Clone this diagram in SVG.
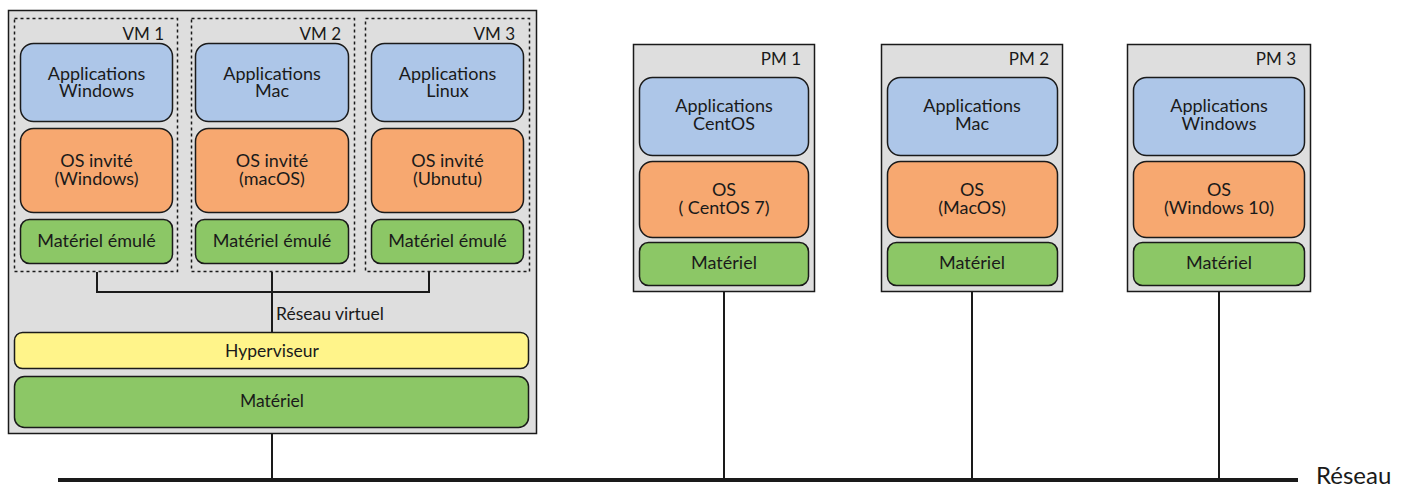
<svg xmlns="http://www.w3.org/2000/svg" width="1408" height="487" viewBox="0 0 1408 487">
<style>
text{font-family:Lato,"Noto Sans","Liberation Sans",sans-serif;font-size:18px;fill:#1a1a1a;text-anchor:middle}
.lbl{text-anchor:end;font-size:17px}
.mid{font-size:17.5px}
.host{fill:#dedede;stroke:#1a1a1a;stroke-width:1.5}
.vm{fill:none;stroke:#1a1a1a;stroke-width:1.5;stroke-dasharray:3 3}
.app{fill:#adc6e8;stroke:#1a1a1a;stroke-width:1.5}
.os{fill:#f7a870;stroke:#1a1a1a;stroke-width:1.5}
.hw{fill:#8cc766;stroke:#1a1a1a;stroke-width:1.5}
.hyp{fill:#fff48a;stroke:#1a1a1a;stroke-width:1.5}
.ln{fill:none;stroke:#1a1a1a;stroke-width:2}
</style>
<g id="host">
<rect class="host" x="8.5" y="10.5" width="528" height="423"/>
<rect class="hyp" x="14.5" y="332.5" width="514" height="36" rx="8"/>
<text class="mid" x="272" y="357">Hyperviseur</text>
<rect class="hw" x="14.5" y="376.5" width="514" height="51" rx="10"/>
<text class="mid" x="272" y="407">Matériel</text>
<text class="mid" x="276" y="320" style="text-anchor:start">Réseau virtuel</text>
</g>
<g id="vm1">
<rect class="vm" x="14.5" y="18.5" width="163" height="253"/>
<text class="lbl" x="164" y="40">VM 1</text>
<rect class="app" x="20.5" y="43.5" width="152" height="78" rx="13"/>
<text x="96.5" y="80">Applications</text><text x="96.5" y="97">Windows</text>
<rect class="os" x="20.5" y="128.5" width="152" height="84" rx="13"/>
<text x="96.5" y="167">OS invité</text><text x="96.5" y="185">(Windows)</text>
<rect class="hw" x="20.5" y="219.5" width="152" height="44" rx="9"/>
<text x="96.5" y="247">Matériel émulé</text>
</g>
<g id="vm2">
<rect class="vm" x="191.5" y="18.5" width="163" height="253"/>
<text class="lbl" x="341" y="40">VM 2</text>
<rect class="app" x="195.5" y="43.5" width="153" height="78" rx="13"/>
<text x="272" y="80">Applications</text><text x="272" y="97">Mac</text>
<rect class="os" x="195.5" y="128.5" width="153" height="84" rx="13"/>
<text x="272" y="167">OS invité</text><text x="272" y="185">(macOS)</text>
<rect class="hw" x="195.5" y="219.5" width="153" height="44" rx="9"/>
<text x="272" y="247">Matériel émulé</text>
</g>
<g id="vm3">
<rect class="vm" x="365.5" y="18.5" width="164" height="253"/>
<text class="lbl" x="515" y="40">VM 3</text>
<rect class="app" x="371.5" y="43.5" width="152" height="78" rx="13"/>
<text x="447.5" y="80">Applications</text><text x="447.5" y="97">Linux</text>
<rect class="os" x="371.5" y="128.5" width="152" height="84" rx="13"/>
<text x="447.5" y="167">OS invité</text><text x="447.5" y="185">(Ubnutu)</text>
<rect class="hw" x="371.5" y="219.5" width="152" height="44" rx="9"/>
<text x="447.5" y="247">Matériel émulé</text>
</g>
<g id="pm1">
<rect class="host" x="633.5" y="44.5" width="181" height="247"/>
<text class="lbl" x="801" y="65">PM 1</text>
<rect class="app" x="639.5" y="77.5" width="169" height="78" rx="13"/>
<text x="724" y="112">Applications</text><text x="724" y="130">CentOS</text>
<rect class="os" x="639.5" y="161.5" width="169" height="76" rx="13"/>
<text x="724" y="196">OS</text><text x="724" y="214">( CentOS 7)</text>
<rect class="hw" x="639.5" y="242.5" width="169" height="43" rx="9"/>
<text x="724" y="269">Matériel</text>
</g>
<g id="pm2">
<rect class="host" x="881.5" y="44.5" width="181" height="247"/>
<text class="lbl" x="1049" y="65">PM 2</text>
<rect class="app" x="887.5" y="77.5" width="170" height="78" rx="13"/>
<text x="972" y="112">Applications</text><text x="972" y="130">Mac</text>
<rect class="os" x="887.5" y="161.5" width="170" height="76" rx="13"/>
<text x="972" y="196">OS</text><text x="972" y="214">(MacOS)</text>
<rect class="hw" x="887.5" y="242.5" width="170" height="43" rx="9"/>
<text x="972" y="269">Matériel</text>
</g>
<g id="pm3">
<rect class="host" x="1127.5" y="44.5" width="183" height="247"/>
<text class="lbl" x="1296" y="65">PM 3</text>
<rect class="app" x="1133.5" y="77.5" width="171" height="78" rx="13"/>
<text x="1219" y="112">Applications</text><text x="1219" y="130">Windows</text>
<rect class="os" x="1133.5" y="161.5" width="171" height="76" rx="13"/>
<text x="1219" y="196">OS</text><text x="1219" y="214">(Windows 10)</text>
<rect class="hw" x="1133.5" y="242.5" width="171" height="43" rx="9"/>
<text x="1219" y="269">Matériel</text>
</g>
<g id="connectors">
<path class="ln" d="M97 272V292H429V272M272 272V332"/>
<path class="ln" d="M272 434V480M724 292V480M972 292V480M1219 292V480"/>
<path d="M58 480H1298" fill="none" stroke="#1a1a1a" stroke-width="4"/>
</g>
<text x="1316" y="484" style="text-anchor:start;font-size:24px">Réseau</text>
</svg>
